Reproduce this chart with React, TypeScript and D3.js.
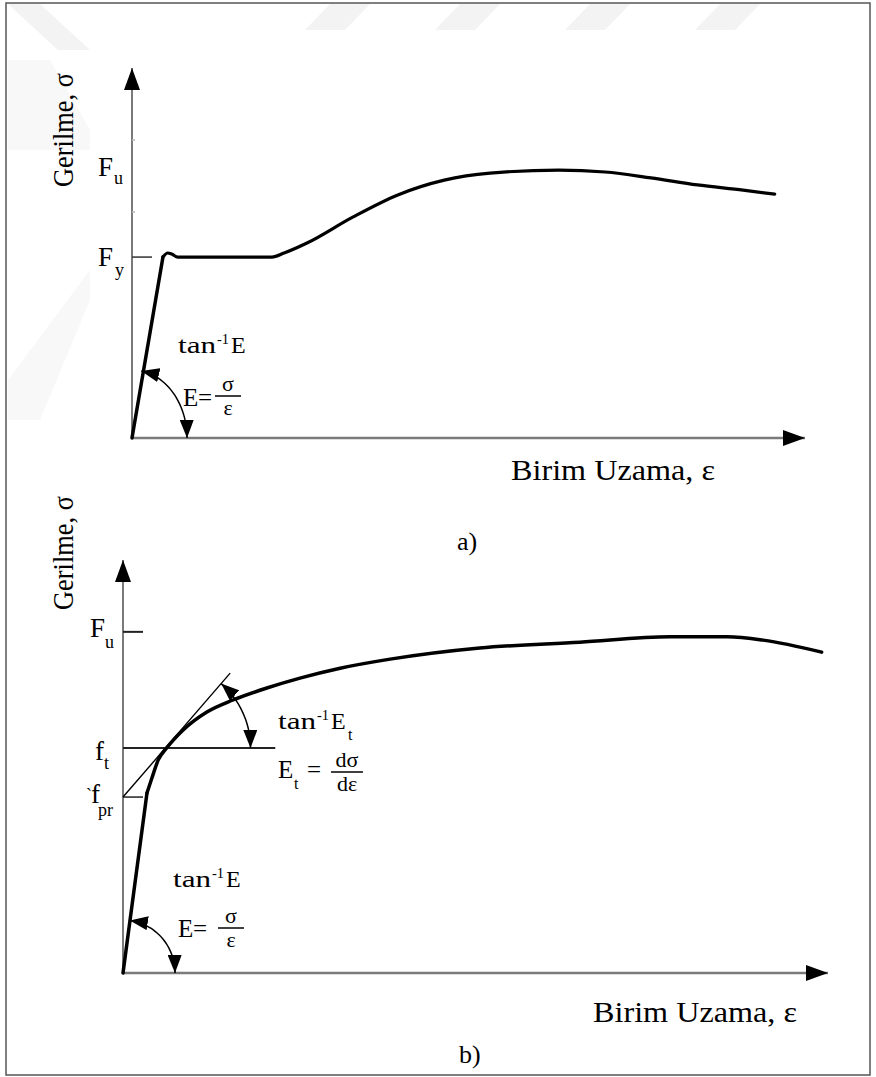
import * as d3 from "d3";

// a) mild steel: strain (% of axis) vs stress (% of axis)
const strainA = [0, 4.6, 5.3, 5.9, 6.8, 20.8, 22.6, 26.0, 32.8, 39.5, 46.4, 53.2, 63.4, 70.3, 77.1, 84.0, 90.8, 95.5];
const stressA = [0, 48.9, 50.0, 49.7, 48.9, 48.9, 50.0, 52.7, 59.7, 65.7, 69.7, 71.6, 72.4, 71.9, 70.3, 68.4, 67.0, 65.9];
const levelNamesA = ["u", "y"];
const levelsA = [71.9, 48.9];
const minorTicksA = [80.5, 61.1];

// b) high strength steel, no yield plateau
const strainB = [0, 3.4, 4.1, 5.0, 6.2, 8.5, 11.9, 15.6, 20.4, 25.1, 30.8, 37.9, 50.6, 64.8, 77.6, 85.7, 90.8, 99.1];
const stressB = [0, 43.6, 47.2, 51.6, 54.5, 58.8, 63.2, 66.1, 69.0, 71.4, 73.8, 76.0, 78.7, 80.1, 81.4, 81.4, 80.6, 77.7];
const levelNamesB = ["u", "t", "pr"];
const levelsB = [82.6, 54.5, 42.6];
const tangentStrainB = [0, 15.2];
const tangentStressB = [42.6, 72.6];
const ftLineEndB = 21.6;

const serif = "'Liberation Serif', 'Times New Roman', Times, serif";

type P = [number, number];

// elliptical arc from angle a0 to a1 (radians, svg orientation)
function arcPath(cx: number, cy: number, rx: number, ry: number, a0: number, a1: number) {
  const ts = d3.range(0, 1.0001, 0.05).map((t) => a0 + (a1 - a0) * t);
  return d3.line().curve(d3.curveCatmullRom)(ts.map((a) => [cx + rx * Math.cos(a), cy + ry * Math.sin(a)] as P)) || "";
}

function TanLabel({ x, y, sub }: { x: number; y: number; sub?: string }) {
  return (
    <g>
      <text x={x} y={y} fontSize={24} textLength={38} lengthAdjust="spacingAndGlyphs">tan</text>
      <text x={x + 39} y={y - 9} fontSize={15} textLength={12} lengthAdjust="spacingAndGlyphs">-1</text>
      <text x={x + 53} y={y} fontSize={24}>E</text>
      {sub && <text x={x + 70} y={y + 11} fontSize={16}>{sub}</text>}
    </g>
  );
}

function Fraction({ cx, y, num, den, w }: { cx: number; y: number; num: string; den: string; w: number }) {
  return (
    <g>
      <text x={cx} y={y - 5} fontSize={22} textAnchor="middle">{num}</text>
      <line x1={cx - w / 2} x2={cx + w / 2} y1={y} y2={y} stroke="#000" strokeWidth={1.5} />
      <text x={cx} y={y + 19} fontSize={22} textAnchor="middle">{den}</text>
    </g>
  );
}

export default function App() {
  const xA = d3.scaleLinear().domain([0, 100]).range([132, 805]);
  const yA = d3.scaleLinear().domain([0, 100]).range([438, 68]);
  const xB = d3.scaleLinear().domain([0, 100]).range([123, 828]);
  const yB = d3.scaleLinear().domain([0, 100]).range([973, 560]);

  const ptsA: P[] = strainA.map((s, i) => [xA(s), yA(stressA[i])]);
  const ptsB: P[] = strainB.map((s, i) => [xB(s), yB(stressB[i])]);
  const straight = d3.line().curve(d3.curveLinear);
  const smooth = d3.line().curve(d3.curveMonotoneX);

  // angle arcs
  const aA = Math.atan2(ptsA[1][1] - yA(0), ptsA[1][0] - xA(0));
  const arcA = arcPath(xA(0), yA(0), 55, 68, aA, 0);
  const aB = Math.atan2(ptsB[1][1] - yB(0), ptsB[1][0] - xB(0));
  const arcB = arcPath(xB(0), yB(0), 52, 53, aB, 0);

  const t0: P = [xB(tangentStrainB[0]), yB(tangentStressB[0])];
  const t1: P = [xB(tangentStrainB[1]), yB(tangentStressB[1])];
  const ftY = yB(levelsB[1]);
  const cxT = t0[0] + ((t1[0] - t0[0]) * (ftY - t0[1])) / (t1[1] - t0[1]);
  const aT = Math.atan2(t1[1] - t0[1], t1[0] - t0[0]);
  const arcT = arcPath(cxT, ftY, 85, 85, aT, 0);

  const axisColor = "#7a7a7a";

  return (
    <svg width={876} height={1077} style={{ position: "absolute", left: 0, top: 0, background: "#fff" }} fontFamily={serif}>
      <defs>
        <marker id="axArrow" viewBox="0 0 22 16" refX={22} refY={8} markerWidth={22} markerHeight={16} markerUnits="userSpaceOnUse" orient="auto">
          <path d="M0,0 L22,8 L0,16 Z" fill="#000" />
        </marker>
        <marker id="arcArrow" viewBox="0 0 18 14" refX={18} refY={7} markerWidth={18} markerHeight={14} markerUnits="userSpaceOnUse" orient="auto-start-reverse">
          <path d="M0,0 L18,7 L0,14 Z" fill="#000" />
        </marker>
      </defs>

      {/* faint watermark */}
      <g fill="#f3f3f3">
        {[300, 430, 560, 690].map((x) => (
          <polygon key={x} points={`${x + 30},4 ${x + 70},4 ${x + 45},30 ${x + 5},30`} />
        ))}
        <polygon points="8,4 40,4 90,50 58,50" />
        <polygon points="8,60 50,60 90,130 90,150 8,150" opacity={0.6} />
        <polygon points="90,270 90,300 40,420 8,420 8,380" opacity={0.6} />
      </g>

      <rect x={6} y={3} width={864} height={1072} fill="none" stroke="#555" strokeWidth={1.5} />

      {/* ---------- chart a ---------- */}
      <line x1={xA(0)} y1={yA(0)} x2={xA(0)} y2={yA(100)} stroke={axisColor} strokeWidth={2} markerEnd="url(#axArrow)" />
      <line x1={xA(0)} y1={yA(0)} x2={xA(100)} y2={yA(0)} stroke={axisColor} strokeWidth={2.5} markerEnd="url(#axArrow)" />
      {minorTicksA.map((v) => (
        <line key={v} x1={xA(0)} x2={xA(0) + 3} y1={yA(v)} y2={yA(v)} stroke="#bbb" strokeWidth={1.5} />
      ))}
      <line x1={xA(0)} x2={xA(0) + 20} y1={yA(levelsA[1])} y2={yA(levelsA[1])} stroke="#333" strokeWidth={1.5} />
      <path d={straight(ptsA.slice(0, 2)) || ""} fill="none" stroke="#000" strokeWidth={3.5} strokeLinecap="round" />
      <path d={smooth(ptsA.slice(1)) || ""} fill="none" stroke="#000" strokeWidth={3.2} strokeLinecap="round" strokeLinejoin="round" />
      <path d={arcA} fill="none" stroke="#000" strokeWidth={1.5} markerStart="url(#arcArrow)" markerEnd="url(#arcArrow)" />

      <text x={98} y={yA(levelsA[0]) + 4} fontSize={27}>F</text>
      <text x={114} y={yA(levelsA[0]) + 12} fontSize={18}>{levelNamesA[0]}</text>
      <text x={98} y={yA(levelsA[1]) + 9} fontSize={27}>F</text>
      <text x={115} y={yA(levelsA[1]) + 19} fontSize={18}>{levelNamesA[1]}</text>

      <text transform="translate(73,187) rotate(-90)" fontSize={30} textLength={114} lengthAdjust="spacingAndGlyphs">Gerilme, σ</text>
      <text x={511} y={480} fontSize={30} textLength={204} lengthAdjust="spacingAndGlyphs">Birim Uzama, ε</text>
      <text x={457} y={550} fontSize={26}>a)</text>

      <TanLabel x={178} y={353} />
      <text x={183} y={406} fontSize={25}>E</text>
      <text x={198} y={406} fontSize={25}>=</text>
      <Fraction cx={228} y={396} num="σ" den="ε" w={26} />

      {/* ---------- chart b ---------- */}
      <line x1={xB(0)} y1={yB(0)} x2={xB(0)} y2={yB(100)} stroke={axisColor} strokeWidth={2} markerEnd="url(#axArrow)" />
      <line x1={xB(0)} y1={yB(0)} x2={xB(100)} y2={yB(0)} stroke={axisColor} strokeWidth={2.5} markerEnd="url(#axArrow)" />
      <line x1={xB(0)} x2={xB(0) + 20} y1={yB(levelsB[0])} y2={yB(levelsB[0])} stroke="#222" strokeWidth={2} />
      <line x1={xB(0)} x2={xB(ftLineEndB)} y1={ftY} y2={ftY} stroke="#222" strokeWidth={2} />
      <line x1={xB(0)} x2={xB(0) + 20} y1={yB(levelsB[2])} y2={yB(levelsB[2])} stroke="#222" strokeWidth={1.5} />
      <path d={straight([t0, t1]) || ""} fill="none" stroke="#000" strokeWidth={1.4} />
      <path d={straight(ptsB.slice(0, 2)) || ""} fill="none" stroke="#000" strokeWidth={3.5} strokeLinecap="round" />
      <path d={smooth(ptsB.slice(1)) || ""} fill="none" stroke="#000" strokeWidth={3.5} strokeLinecap="round" strokeLinejoin="round" />
      <path d={arcB} fill="none" stroke="#000" strokeWidth={1.5} markerStart="url(#arcArrow)" markerEnd="url(#arcArrow)" />
      <path d={arcT} fill="none" stroke="#000" strokeWidth={1.5} markerStart="url(#arcArrow)" markerEnd="url(#arcArrow)" />

      <text x={90} y={yB(levelsB[0]) + 5} fontSize={27}>F</text>
      <text x={105} y={yB(levelsB[0]) + 16} fontSize={18}>{levelNamesB[0]}</text>
      <text x={95} y={ftY + 12} fontSize={27}>f</text>
      <text x={104} y={ftY + 21} fontSize={18}>{levelNamesB[1]}</text>
      <text x={86} y={yB(levelsB[2]) + 4} fontSize={18}>`</text>
      <text x={91} y={yB(levelsB[2]) + 6} fontSize={27}>f</text>
      <text x={98} y={yB(levelsB[2]) + 19} fontSize={18}>{levelNamesB[2]}</text>

      <text transform="translate(73,610) rotate(-90)" fontSize={30} textLength={114} lengthAdjust="spacingAndGlyphs">Gerilme, σ</text>
      <text x={593} y={1022} fontSize={30} textLength={204} lengthAdjust="spacingAndGlyphs">Birim Uzama, ε</text>
      <text x={459} y={1063} fontSize={26}>b)</text>

      <TanLabel x={278} y={729} sub="t" />
      <text x={278} y={778} fontSize={25}>E</text>
      <text x={294} y={789} fontSize={16}>t</text>
      <text x={307} y={778} fontSize={25}>=</text>
      <Fraction cx={347} y={772} num="dσ" den="dε" w={32} />

      <TanLabel x={173} y={887} />
      <text x={178} y={937} fontSize={25}>E</text>
      <text x={193} y={937} fontSize={25}>=</text>
      <Fraction cx={231} y={928} num="σ" den="ε" w={26} />
    </svg>
  );
}
